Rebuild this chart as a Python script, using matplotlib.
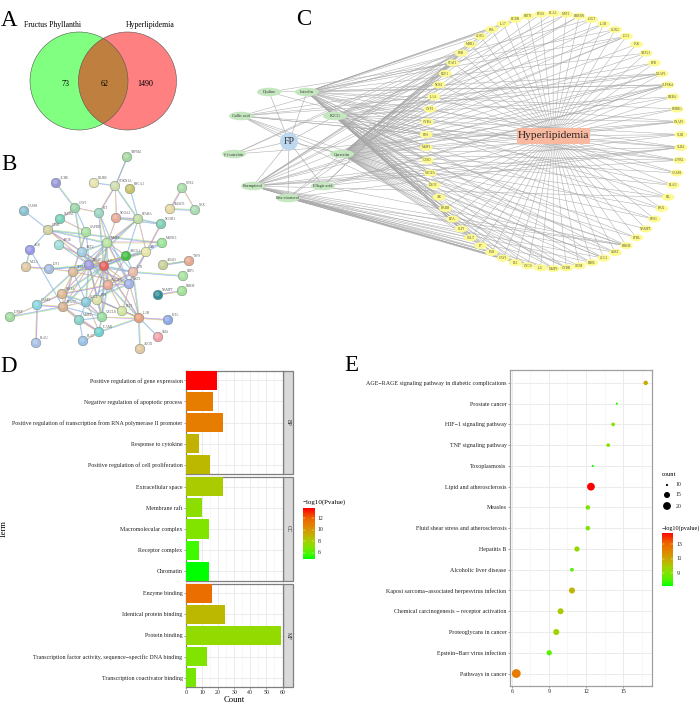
import numpy as np
import matplotlib
matplotlib.use("Agg")
import matplotlib.pyplot as plt
from matplotlib.colors import LinearSegmentedColormap, Normalize
from matplotlib.patches import Circle, Ellipse, Rectangle

plt.rcParams["font.family"] = ["Liberation Serif", "DejaVu Serif"]

W, H = 700, 713

# panel A
venn_left = "Fructus Phyllanthi"
venn_right = "Hyperlipidemia"
venn_counts = [73, 62, 1490]

# panel B: string network
b_names = ["TRPM4", "CDKN1A", "ACHE", "LILRB", "BRCA1", "CAV1", "KIT", "NCOA2", "PPARA", "NCOR1", "SOX2",
           "SMAD3", "GEX", "CASP8", "CLDN1", "CTSB", "GAPDH", "APOE", "MMP9", "MAPK3", "AKT2", "ABCG1", "AR",
           "ALB", "MCL1", "IGF1", "PPARG", "IL6", "TP53", "JUN", "ADAD", "TNFS", "LRP1", "NAMPT", "PRKM",
           "AKT1", "VEGFA", "HIF1A", "CASP3", "PTGS2", "CCL2", "FOS", "FLT1", "IL1B", "CXCL8", "MMP2", "IGFBP",
           "ICAM1", "PLAT", "PLAU", "ALOX", "SMA", "KITL"]
b_x = [127, 115, 56, 94, 130, 75, 99, 116, 138, 161, 182, 170, 195, 24, 60, 48, 86, 59, 107, 162, 82, 126, 146,
       30, 26, 49, 89, 104, 73, 133, 163, 189, 183, 158, 182, 129, 108, 62, 37, 63, 86, 97, 122, 139, 102, 79, 10,
       99, 83, 36, 140, 158, 168]
b_y = [157, 186, 183, 183, 189, 208, 213, 218, 219, 224, 188, 209, 210, 211, 219, 230, 232, 245, 243, 243, 252,
       256, 252, 250, 267, 269, 265, 266, 272, 272, 265, 261, 276, 295, 291, 284, 285, 294, 305, 307, 302, 300,
       311, 318, 317, 320, 317, 332, 341, 343, 349, 337, 320]
b_colors = ["#a5d6a0", "#d0dcae", "#9a98d8", "#e6e2ac", "#c8c46a", "#98d4a8", "#9ad4c0", "#e6a898", "#c0dca0",
            "#7fd0b0", "#a8dca8", "#e6d8a0", "#a8dcb0", "#88c0d0", "#78d0b8", "#d0d0a0", "#a8e0a0", "#a0dcd8",
            "#b8e4a0", "#98e498", "#a0cce0", "#40c040", "#e8e4a8", "#9898e8", "#e0c8a0", "#a8bce0", "#a098e0",
            "#e86060", "#dcb898", "#e8b8a8", "#c8d098", "#e8a890", "#a8e0a0", "#308c98", "#a0e098", "#a0b0e8",
            "#e8a898", "#e0b890", "#88d4e0", "#d8b090", "#88c8d8", "#dce0a8", "#d0e4a0", "#e8a080", "#98dca0",
            "#88d0c8", "#a0dca0", "#70d0d0", "#98c0e8", "#a8c0e8", "#e0c8a0", "#f0a0a8", "#90a8e8"]
b_edges = [("TRPM4", "CDKN1A"), ("ACHE", "CAV1"), ("LILRB", "CDKN1A"), ("CDKN1A", "KIT"), ("CDKN1A", "NCOA2"),
           ("CDKN1A", "PPARA"), ("BRCA1", "PPARA"), ("SOX2", "SMAD3"), ("SOX2", "GEX"), ("SMAD3", "GEX"),
           ("CASP8", "CTSB"), ("CAV1", "CLDN1"), ("CAV1", "KIT"), ("CAV1", "AKT2"), ("CAV1", "GAPDH"),
           ("CLDN1", "CTSB"), ("CLDN1", "GAPDH"), ("CTSB", "MMP9"), ("CTSB", "ALB"), ("CTSB", "IL6"),
           ("CTSB", "PPARG"), ("CTSB", "MAPK3"), ("APOE", "PPARG"), ("APOE", "IL6"), ("KIT", "MMP9"), ("KIT", "IL6"),
           ("KIT", "AKT1"), ("NCOA2", "PPARA"), ("NCOA2", "MMP9"), ("NCOA2", "NCOR1"), ("PPARA", "NCOR1"),
           ("PPARA", "MMP9"), ("PPARA", "AR"), ("PPARA", "PPARG"), ("PPARA", "ABCG1"), ("NCOR1", "AR"),
           ("MMP9", "MAPK3"), ("MMP9", "IL6"), ("MMP9", "JUN"), ("MMP9", "PPARG"), ("MMP9", "ABCG1"),
           ("MMP9", "AKT2"), ("MMP9", "TP53"), ("MMP9", "AKT1"), ("MMP9", "FOS"), ("MMP9", "VEGFA"),
           ("GAPDH", "PPARG"), ("GAPDH", "TP53"), ("AKT2", "IL6"), ("AKT2", "PPARG"), ("AKT2", "VEGFA"),
           ("ABCG1", "IL6"), ("ABCG1", "PPARG"), ("ABCG1", "AR"), ("ABCG1", "JUN"), ("ABCG1", "TP53"),
           ("ABCG1", "VEGFA"), ("AR", "IL6"), ("AR", "JUN"), ("AR", "AKT1"), ("AR", "PPARG"), ("ALB", "MCL1"),
           ("ALB", "PTGS2"), ("MCL1", "IGF1"), ("IGF1", "TP53"), ("IGF1", "PPARG"), ("IGF1", "IL6"),
           ("PPARG", "IL6"), ("PPARG", "TP53"), ("PPARG", "JUN"), ("PPARG", "VEGFA"), ("PPARG", "AKT1"),
           ("PPARG", "HIF1A"), ("PPARG", "CCL2"), ("PPARG", "FOS"), ("PPARG", "CXCL8"), ("PPARG", "PTGS2"),
           ("IL6", "TP53"), ("IL6", "JUN"), ("IL6", "VEGFA"), ("IL6", "AKT1"), ("IL6", "HIF1A"), ("IL6", "FOS"),
           ("IL6", "IL1B"), ("IL6", "CCL2"), ("IL6", "PTGS2"), ("IL6", "MAPK3"), ("IL6", "CXCL8"),
           ("TP53", "HIF1A"), ("TP53", "CASP3"), ("TP53", "CCL2"), ("TP53", "PTGS2"), ("TP53", "AKT1"),
           ("JUN", "LRP1"), ("JUN", "AKT1"), ("JUN", "VEGFA"), ("JUN", "FLT1"), ("JUN", "IL1B"), ("JUN", "FOS"),
           ("AKT1", "VEGFA"), ("AKT1", "IL1B"), ("AKT1", "CCL2"), ("VEGFA", "FOS"), ("VEGFA", "HIF1A"),
           ("VEGFA", "FLT1"), ("VEGFA", "CXCL8"), ("VEGFA", "CCL2"), ("HIF1A", "CASP3"), ("HIF1A", "PTGS2"),
           ("HIF1A", "CCL2"), ("HIF1A", "CXCL8"), ("PTGS2", "CASP3"), ("PTGS2", "CCL2"), ("PTGS2", "IGFBP"),
           ("PTGS2", "CXCL8"), ("PTGS2", "MMP2"), ("PTGS2", "ICAM1"), ("CCL2", "FOS"), ("CCL2", "MMP2"),
           ("CCL2", "CXCL8"), ("CCL2", "ICAM1"), ("FOS", "CXCL8"), ("FOS", "FLT1"), ("FOS", "IL1B"),
           ("FLT1", "IL1B"), ("CXCL8", "ICAM1"), ("CXCL8", "MMP2"), ("MMP2", "ICAM1"), ("ICAM1", "PLAT"),
           ("ICAM1", "IL1B"), ("MMP2", "PLAT"), ("CASP3", "PLAU"), ("CASP3", "IGFBP"), ("IL1B", "ALOX"),
           ("IL1B", "SMA"), ("IL1B", "KITL"), ("IL1B", "CXCL8"), ("IL1B", "VEGFA"), ("MAPK3", "AR"),
           ("NAMPT", "PRKM"), ("ADAD", "TNFS"), ("ADAD", "TNFS"), ("TRPM4", "CDKN1A")]

# panel C: herb, compounds, targets
compound_names = ["Dyaline", "Luteolin", "Gallic acid", "EGCG", "(+)-catechin", "Quercetin",
                  "Kaempferol", "Ellagic acid", "Beta-sitosterol"]
compound_x = [269, 307, 241, 335, 234, 342, 253, 323, 288]
compound_y = [92, 92, 116, 116, 154, 154, 186, 186, 198]
target_names = ["BLA2", "MST1", "PRKBN", "sOGT", "IL1B", "COX2", "IGL2", "JAK", "TBX21", "PPB", "LXAP1", "SLPSK4",
                "RXRA", "ESRRG", "LNAP1", "SLIB", "TLR4", "IGFR2", "CASP8", "PLAU", "EIL", "BAX", "FOS1", "NAMPT",
                "FTBL", "PRKM", "SART", "CCL2", "EBIR", "SIOM", "CYBB", "MMP9", "IL6", "CYCS", "BLI", "CAV1",
                "PAB", "F7", "SGLT", "SLPI", "EDA", "RARB", "AR", "LXOC", "VEGFA", "CTSD", "MMP1", "FOS",
                "CYBA", "CYP3", "IL1A", "NOS2", "EGF1", "STAT1", "ESR", "MBR1", "COX1", "ESL", "IL17", "RCBR",
                "PRTN", "PTGS"]
compound_targets = {
    "Dyaline": [11, 47, 53],
    "Luteolin": [3, 5, 6, 8, 10, 11, 13, 14, 16, 18, 20, 21, 25, 27, 30, 33, 35, 36, 37, 38, 39, 40, 41, 42, 43, 44,
                 45, 46, 48, 53, 56, 57, 58, 59, 60],
    "Gallic acid": [10, 11, 16, 17, 25, 27, 30, 47, 51, 54],
    "EGCG": [1, 4, 6, 9, 10, 12, 14, 15, 17, 19, 22, 24, 26, 28, 31, 34, 36, 38, 39, 40, 41, 42, 43, 44, 45, 47, 49,
             52, 54],
    "(+)-catechin": [14, 54, 55],
    "Quercetin": [0, 1, 2, 3, 4, 5, 6, 7, 8, 9, 10, 11, 12, 13, 14, 15, 16, 17, 18, 19, 20, 21, 22, 23, 24, 25, 26, 27,
                  28, 29, 30, 31, 32, 33, 34, 35, 37, 42, 46, 47, 48, 49, 50, 51, 52, 53, 54, 55, 56, 57, 58, 59, 61],
    "Kaempferol": [2, 6, 10, 11, 15, 16, 17, 20, 25, 26, 28, 31, 33, 34, 35, 36, 37, 38, 39, 44, 47, 50, 53, 54, 55,
                   56],
    "Ellagic acid": [11, 16, 25, 53, 54],
    "Beta-sitosterol": [11, 16, 25, 27, 29, 32, 34, 35, 36, 37, 38, 50, 53],
}

# panel D
d_terms = [
    ["Positive regulation of gene expression", "Negative regulation of apoptotic process",
     "Positive regulation of transcription from RNA polymerase II promoter", "Response to cytokine",
     "Positive regulation of cell proliferation"],
    ["Extracellular space", "Membrane raft", "Macromolecular complex", "Receptor complex", "Chromatin"],
    ["Enzyme binding", "Identical protein binding", "Protein binding",
     "Transcription factor activity, sequence\u2212specific DNA binding", "Transcription coactivator binding"],
]
d_groups = ["BP", "CC", "MF"]
d_counts = [[19, 17, 23, 8, 15], [23, 10, 14, 8, 14], [16, 24, 59, 13, 6]]
d_pvalues = [[13.8, 11.0, 11.0, 9.0, 8.8], [8.2, 7.3, 7.0, 5.7, 4.95], [11.6, 8.8, 7.5, 7.0, 6.8]]

# panel E
e_terms = ["AGE\u2212RAGE signaling pathway in diabetic complications", "Prostate cancer", "HIF\u22121 signaling pathway",
           "TNF signaling pathway", "Toxoplasmosis", "Lipid and atherosclerosis", "Measles",
           "Fluid shear stress and atherosclerosis", "Hepatitis B", "Alcoholic liver disease",
           "Kaposi sarcoma\u2212associated herpesvirus infection", "Chemical carcinogenesis \u2212 receptor activation",
           "Proteoglycans in cancer", "Epstein\u2212Barr virus infection", "Pathways in cancer"]
e_ratio = [16.84, 14.5, 14.2, 13.8, 12.55, 12.4, 12.15, 12.15, 11.27, 10.86, 10.86, 9.94, 9.59, 9.02, 6.35]
e_count = [13, 10, 12, 12, 10, 20, 13, 13, 14, 12, 15, 15, 15, 14, 21]
e_pvalue = [10.7, 7.6, 9.0, 9.0, 7.4, 14.6, 8.8, 8.8, 9.4, 8.1, 10.5, 10.0, 9.6, 8.2, 12.36]

cmap = LinearSegmentedColormap.from_list("gyr", [
    (0, "#00ff00"), (0.09, "#44f800"), (0.25, "#88e000"), (0.35, "#a4d000"), (0.45, "#c0b400"),
    (0.68, "#e67e00"), (0.8, "#ec6400"), (1, "#ff0000")])


def px_axes(left, top, right, bottom, **kw):
    return fig.add_axes([left / W, 1 - bottom / H, (right - left) / W, (bottom - top) / H], **kw)


def count_radius(c):
    return np.interp(c, [10, 15, 20, 21], [1.1, 3.0, 3.9, 4.4])


def colorbar(left, top, right, bottom, vmin, vmax, ticks):
    cax = px_axes(left, top, right, bottom)
    cax.imshow(np.linspace(1, 0, 200)[:, None], cmap=cmap, aspect="auto", extent=[0, 1, vmin, vmax])
    cax.set_xticks([])
    cax.set_yticks([])
    for s in cax.spines.values():
        s.set_visible(False)
    for t in ticks:
        cax.plot([0, 0.2], [t, t], color="white", lw=0.3)
        cax.plot([0.8, 1], [t, t], color="white", lw=0.3)
        cax.text(1.3, t, str(t), fontsize=4.2, va="center", ha="left", color="#222222")
    cax.set_xlim(0, 1)
    cax.set_ylim(vmin, vmax)


fig = plt.figure(figsize=(W / 100, H / 100), dpi=100)
bg = fig.add_axes([0, 0, 1, 1])
bg.set_xlim(0, W)
bg.set_ylim(H, 0)
bg.axis("off")

for letter, x, y in [("A", 1, 26), ("B", 1, 170), ("C", 296, 25), ("D", 0, 372), ("E", 344, 371)]:
    bg.text(x, y, letter, fontsize=16.5, ha="left", va="baseline", color="black")

# A: venn
left_c = Circle((79, 81), 49, fc="#80ff80", ec="none", zorder=1)
right_c = Circle((127.5, 81), 49, fc="#ff8080", ec="none", zorder=1)
bg.add_patch(left_c)
bg.add_patch(right_c)
overlap = Circle((127.5, 81), 49, fc="#bf803f", ec="none", zorder=2)
bg.add_patch(overlap)
overlap.set_clip_path(Circle((79, 81), 49, transform=bg.transData))
for cx in (79, 127.5):
    bg.add_patch(Circle((cx, 81), 49, fc="none", ec="#555555", lw=0.4, zorder=3))
bg.text(52.5, 25, venn_left, fontsize=5.6, ha="center", va="center", zorder=4)
bg.text(150.5, 25, venn_right, fontsize=5.6, ha="center", va="center", zorder=4)
for x, n in zip((65, 105, 145.5), venn_counts):
    bg.text(x, 83.5, str(n), fontsize=5.8, ha="center", va="center", zorder=4)

# B: string network
b_pos = dict(zip(b_names, zip(b_x, b_y)))
edge_palette = ["#d86ad8", "#b9dc62", "#74d8d8", "#9a9ae8", "#555555"]
for i, (a, b) in enumerate(b_edges):
    xa, ya = b_pos[a]
    xb, yb = b_pos[b]
    d = np.hypot(xb - xa, yb - ya)
    nx, ny = -(yb - ya) / d, (xb - xa) / d
    for j, off in enumerate((-0.55, 0.0, 0.55)[: 2 + i % 2]):
        c = edge_palette[(i + j) % 4]
        bg.plot([xa + nx * off, xb + nx * off], [ya + ny * off, yb + ny * off], color=c, lw=0.33, zorder=2,
                solid_capstyle="butt")
for name, x, y, col in zip(b_names, b_x, b_y, b_colors):
    bg.add_patch(Circle((x, y), 4.8, fc=col, ec="#7a8a80", lw=0.35, zorder=3))
    bg.add_patch(Circle((x - 0.8, y - 1.0), 2.4, fc="white", ec="none", alpha=0.25, zorder=3.1))
    bg.text(x + 3.5, y - 5, name, fontsize=2.4, color="#555555", ha="left", va="center", zorder=4)

# C: compound target network
hub_x, hub_y = 553, 136
ring_cx, ring_cy, ring_r = 553.5, 141, 127.5
theta = 2 * np.pi * np.arange(len(target_names)) / len(target_names)
ring_x = ring_cx + ring_r * np.sin(theta)
ring_y = ring_cy - ring_r * np.cos(theta)
fp_x, fp_y = 289, 141.5
for rx, ry in zip(ring_x, ring_y):
    bg.plot([hub_x, rx], [hub_y, ry], color="#b4b4b4", lw=0.4, zorder=1)
for name, cx, cy in zip(compound_names, compound_x, compound_y):
    bg.plot([fp_x, cx], [fp_y, cy], color="#a8a8a8", lw=0.4, zorder=1)
    for t in compound_targets[name]:
        bg.plot([cx, ring_x[t]], [cy, ring_y[t]], color="#a8a8a8", lw=0.35, zorder=1)
for name, rx, ry in zip(target_names, ring_x, ring_y):
    bg.add_patch(Ellipse((rx, ry), 13, 7, fc="#fdfa94", ec="none", zorder=3))
    bg.text(rx, ry, name, fontsize=2.4, ha="center", va="center", color="#555533", zorder=4)
for name, cx, cy in zip(compound_names, compound_x, compound_y):
    bg.add_patch(Ellipse((cx, cy), 24, 8.5, fc="#c5e7bf", ec="none", zorder=3))
    bg.text(cx, cy, name, fontsize=3, ha="center", va="center", color="#333333", zorder=4)
bg.add_patch(Circle((fp_x, fp_y), 9, fc="#bdd7ee", ec="none", zorder=3))
bg.text(fp_x, fp_y, "FP", fontsize=7, ha="center", va="center", color="#333333", zorder=4)
bg.add_patch(Rectangle((517, 128), 73, 15.5, fc="#f9b9a0", ec="none", zorder=3))
bg.text(553.5, 135.5, "Hyperlipidemia", fontsize=8.2, ha="center", va="center", color="#222222", zorder=4)

# D: bars
d_norm = Normalize(4.95, 13.8)
d_tops = [371, 477, 584]
d_bots = [474, 581, 687]
for k in range(3):
    ax = px_axes(186, d_tops[k], 282.5, d_bots[k])
    ypos = np.arange(5)
    ax.barh(ypos, d_counts[k], height=0.9, color=cmap(d_norm(np.array(d_pvalues[k]))), edgecolor="none", zorder=3)
    ax.set_xlim(0, 60)
    ax.set_ylim(4.45, -0.45)
    ax.set_yticks(ypos)
    ax.set_yticklabels(d_terms[k], fontsize=4.3, color="#222222")
    ax.set_xticks(np.arange(0, 61, 10))
    ax.set_xticks(np.arange(5, 60, 10), minor=True)
    ax.grid(True, which="major", color="#ebebeb", lw=0.7, zorder=0)
    ax.grid(True, which="minor", axis="x", color="#f2f2f2", lw=0.4, zorder=0)
    ax.set_axisbelow(True)
    ax.tick_params(axis="both", which="major", length=1.5, width=0.4, color="#555555", pad=1)
    ax.tick_params(axis="x", which="minor", length=0)
    if k == 2:
        ax.tick_params(axis="x", labelsize=4.2, labelcolor="#222222")
        ax.set_xlabel("Count", fontsize=6.2, labelpad=0.5)
    else:
        ax.tick_params(axis="x", which="major", length=0, labelbottom=False)
    for s in ax.spines.values():
        s.set_color("#7f7f7f")
        s.set_linewidth(0.9)
    bg.add_patch(Rectangle((282.5, d_tops[k]), 10, d_bots[k] - d_tops[k], fc="#d9d9d9", ec="#7f7f7f", lw=0.9))
    bg.text(288, (d_tops[k] + d_bots[k]) / 2, d_groups[k], rotation=-90, fontsize=4, ha="center", va="center",
            color="#222222")
bg.text(4, 529, "Term", rotation=90, fontsize=6.2, ha="center", va="center")
bg.text(303, 502, "\u2212log10(Pvalue)", fontsize=5, ha="left", va="center")
colorbar(303, 508, 314, 559, 4.95, 13.8, [6, 8, 10, 12])

# E: dots
ax = px_axes(510, 370, 652, 686)
e_norm = Normalize(7.19, 14.6)
e_y = np.arange(len(e_terms))
sizes = (2 * count_radius(np.array(e_count)) * 0.72) ** 2
ax.scatter(e_ratio, e_y, s=sizes, c=cmap(e_norm(np.array(e_pvalue))), linewidths=0, zorder=3)
ax.set_xlim(5.84, 17.35)
ax.set_ylim(14.6, -0.62)
ax.set_yticks(e_y)
ax.set_yticklabels(e_terms, fontsize=4.3, color="#222222")
ax.set_xticks([6, 9, 12, 15])
ax.set_xticks([7.5, 10.5, 13.5, 16.5], minor=True)
ax.tick_params(axis="x", labelsize=4.2, labelcolor="#222222")
ax.tick_params(axis="both", which="major", length=1.5, width=0.4, color="#555555", pad=1)
ax.tick_params(axis="x", which="minor", length=0)
ax.grid(True, which="major", color="#ebebeb", lw=0.7, zorder=0)
ax.grid(True, which="minor", axis="x", color="#f2f2f2", lw=0.4, zorder=0)
ax.set_axisbelow(True)
for s in ax.spines.values():
    s.set_color("#a0a0a0")
    s.set_linewidth(0.9)

bg.text(662, 474, "count", fontsize=4.6, ha="left", va="center")
for c, y in zip((10, 15, 20), (485, 495, 506)):
    bg.add_patch(Circle((667, y), count_radius(c), fc="black", ec="none"))
    bg.text(676, y, str(c), fontsize=4.2, ha="left", va="center", color="#222222")
bg.text(662, 528, "\u2212log10(pvalue)", fontsize=4.4, ha="left", va="center")
colorbar(662, 533, 673, 586, 7.19, 14.6, [9, 11, 13])

fig.savefig("out.png", dpi=100)
